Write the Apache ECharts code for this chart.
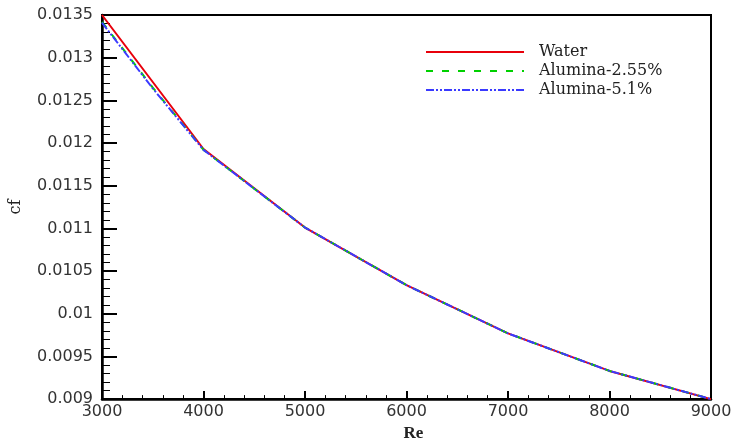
<!DOCTYPE html>
<html><head><meta charset="utf-8">
<script src="https://cdn.jsdelivr.net/npm/echarts@6/dist/echarts.min.js"></script>
<style>html,body{margin:0;padding:0;background:#fff}#c{width:739px;height:447px}</style>
</head><body><div id="c"></div>
<script>
var reWater = [3000, 4000, 5000, 6000, 7000, 8000, 9000];
var cfWater = [0.0135, 0.01193, 0.01101, 0.010335, 0.00977, 0.00933, 0.00900];
var reAl255 = [3000, 3500, 4000, 5000, 6000, 7000, 8000, 9000];
var cfAl255 = [0.01342, 0.01265, 0.01192, 0.01101, 0.010335, 0.00977, 0.00933, 0.00900];
var reAl51 = [3000, 3500, 4000, 5000, 6000, 7000, 8000, 9000];
var cfAl51 = [0.01341, 0.01264, 0.01192, 0.01101, 0.010335, 0.00977, 0.00933, 0.00900];
var seriesNames = ['Water', 'Alumina-2.55%', 'Alumina-5.1%'];

function pairs(xs, ys){ return xs.map(function(x,i){ return [x, ys[i]]; }); }

var chart = echarts.init(document.getElementById('c'), null, {renderer:'canvas'});
chart.setOption({
  animation:false,
  backgroundColor:'#fff',
  grid:{left:101,right:28,top:15,bottom:40,show:true,borderColor:'#000',borderWidth:2,backgroundColor:'transparent'},
  legend:{
    show:true, orient:'vertical', left:425, top:44, padding:0, itemWidth:98, itemHeight:14, itemGap:3,
    itemStyle:{opacity:0},
    textStyle:{fontFamily:'DejaVu Serif', fontSize:16, lineHeight:16, color:'#222', padding:[0,0,0,10]},
    data:seriesNames
  },
  xAxis:{
    type:'value', min:3000, max:9000, interval:1000,
    name:'Re', nameLocation:'middle', nameGap:22,
    nameTextStyle:{fontFamily:'Liberation Serif', fontWeight:'bold', fontSize:17, color:'#222', padding:[0,0,0,14]},
    axisLine:{lineStyle:{color:'#000',width:2.5}},
    axisTick:{inside:true,length:8,lineStyle:{color:'#000',width:2}},
    minorTick:{show:true,splitNumber:5,length:4,lineStyle:{color:'#000',width:1}},
    splitLine:{show:false},
    axisLabel:{fontFamily:'DejaVu Sans', fontSize:16, color:'#333', margin:5,
      formatter:function(v){ return String(Math.round(v)); }}
  },
  yAxis:{
    type:'value', min:0.009, max:0.0135, interval:0.0005,
    name:'cf', nameLocation:'middle', nameGap:78, nameMoveOverlap:false,
    nameTextStyle:{fontFamily:'DejaVu Serif', fontSize:16, color:'#222'},
    axisLine:{lineStyle:{color:'#000',width:2.5}},
    axisTick:{inside:true,length:15,lineStyle:{color:'#000',width:2}},
    minorTick:{show:true,splitNumber:5,length:8,lineStyle:{color:'#000',width:1}},
    splitLine:{show:false},
    axisLabel:{fontFamily:'DejaVu Sans', fontSize:16, color:'#333', margin:9,
      formatter:function(v){ return String(parseFloat(v.toFixed(5))); }}
  },
  series:[
    {name:seriesNames[0], type:'line', data:pairs(reWater,cfWater), symbol:'none',
      lineStyle:{color:'#e8000b',width:2,type:'solid'}, itemStyle:{color:'#e8000b'}},
    {name:seriesNames[1], type:'line', data:pairs(reAl255,cfAl255), symbol:'none',
      lineStyle:{color:'#00d000',width:2,type:[7,9]}, itemStyle:{color:'#00d000'}},
    {name:seriesNames[2], type:'line', data:pairs(reAl51,cfAl51), symbol:'none',
      lineStyle:{color:'#3a3aff',width:2,type:[8,2,2,2,2,2]}, itemStyle:{color:'#3a3aff'}}
  ]
});
</script></body></html>
